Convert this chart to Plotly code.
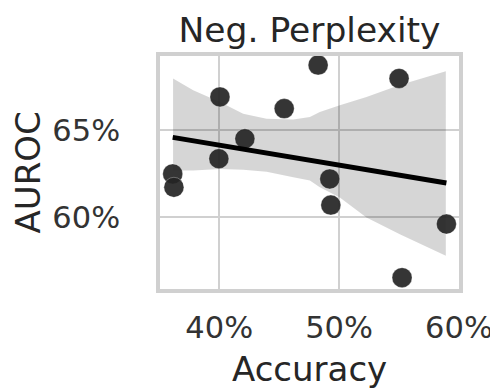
import numpy as np
import plotly.graph_objects as go

# Data (fractions)
accuracy = [0.4825, 0.5500, 0.4006, 0.4542, 0.4214, 0.3997, 0.3612, 0.3622, 0.4922, 0.4931, 0.5895, 0.5525]
auroc = [0.6875, 0.6798, 0.6692, 0.6625, 0.6452, 0.6337, 0.6250, 0.6173, 0.6221, 0.6071, 0.5962, 0.5654]

# Confidence band (bootstrap CI)
band_x = [0.3615, 0.3783, 0.4006, 0.4200, 0.4395, 0.4617, 0.4756, 0.4839, 0.5006, 0.5228, 0.5506, 0.5890]
band_upper = [0.6798, 0.6731, 0.6663, 0.6596, 0.6567, 0.6562, 0.6577, 0.6606, 0.6644, 0.6692, 0.6760, 0.6840]
band_lower = [0.6269, 0.6269, 0.6278, 0.6274, 0.6262, 0.6231, 0.6212, 0.6173, 0.6115, 0.6000, 0.5904, 0.5780]

x_ticks = [0.40, 0.50, 0.60]
y_ticks = [0.60, 0.65]

xa = np.array(accuracy)
ya = np.array(auroc)
slope, intercept = np.polyfit(xa, ya, 1)
line_x = np.array([xa.min(), xa.max()])
line_y = slope * line_x + intercept

FONT = "DejaVu Sans"
fig = go.Figure()
fig.add_trace(go.Scatter(
    x=band_x + band_x[::-1], y=band_upper + band_lower[::-1],
    fill="toself", fillcolor="rgba(0,0,0,0.16)", line=dict(width=0),
    mode="lines", hoverinfo="skip", showlegend=False))
fig.add_trace(go.Scatter(
    x=accuracy, y=auroc, mode="markers",
    marker=dict(size=20, color="rgba(36,36,36,0.92)",
                line=dict(width=1, color="rgba(255,255,255,0.3)")),
    showlegend=False))
fig.add_trace(go.Scatter(
    x=line_x, y=line_y, mode="lines",
    line=dict(color="black", width=5), showlegend=False))

axis_common = dict(
    showgrid=True, gridcolor="#d0d0d0", gridwidth=2,
    showline=True, linecolor="#d0d0d0", linewidth=3.5, mirror=True,
    zeroline=False, ticks="", tickformat=".0%", automargin=False,
    tickfont=dict(family=FONT, size=30.5, color="#333333"),
)
H = 382
fig.update_layout(
    width=490, height=H,
    margin=dict(l=152, r=39, t=48, b=101),
    paper_bgcolor="white", plot_bgcolor="white",
    title=dict(text="Neg. Perplexity", x=0.5, xref="paper", xanchor="center",
               y=1 - 22 / H, yref="container", yanchor="middle", automargin=False,
               font=dict(family=FONT, size=34.5, color="#262626")),
    xaxis=dict(range=[0.3506, 0.60], tickvals=x_ticks, ticklabelstandoff=9,
               **axis_common),
    yaxis=dict(range=[0.5589, 0.6927], tickvals=y_ticks, ticklabelstandoff=30,
               **axis_common),
    annotations=[
        dict(text="Accuracy", x=0.5, y=0, xref="paper", yref="paper",
             xanchor="center", yanchor="middle", yshift=-80, showarrow=False,
             font=dict(family=FONT, size=34, color="#262626")),
        dict(text="AUROC", x=0, y=0.5, xref="paper", yref="paper", textangle=-90,
             xanchor="center", yanchor="middle", xshift=-133, showarrow=False,
             font=dict(family=FONT, size=34, color="#262626")),
    ],
)
fig.write_html("out.html")
